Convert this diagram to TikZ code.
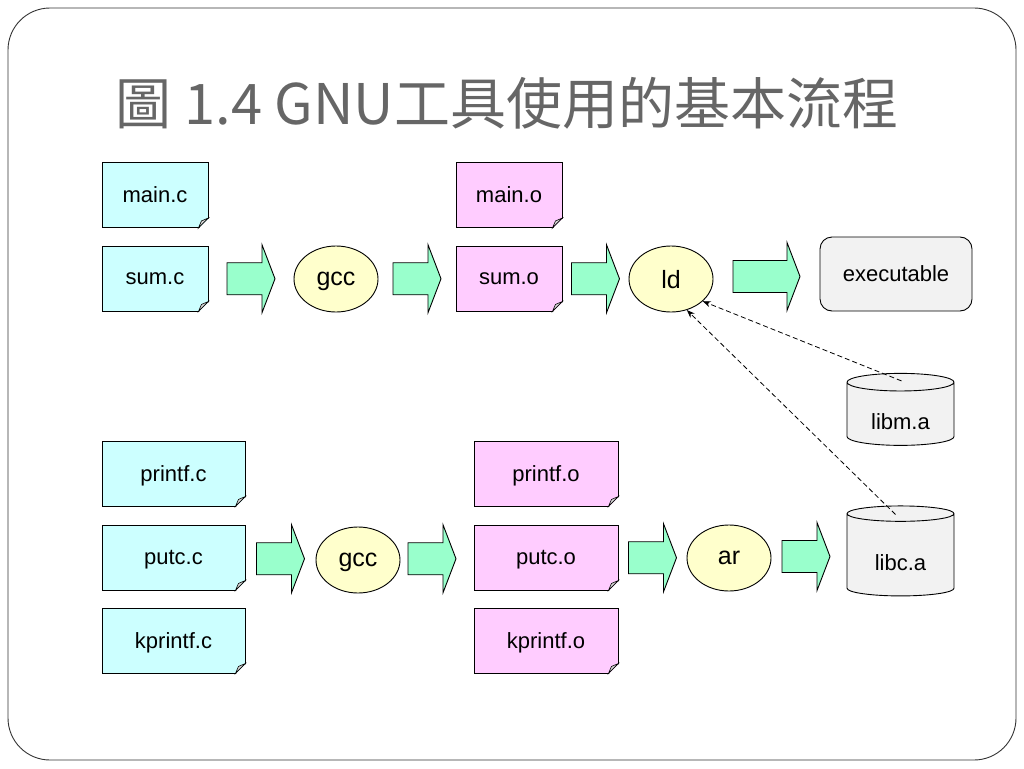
\documentclass[tikz,border=0pt]{standalone}
\usepackage{fontspec}
\setmainfont{Liberation Sans}
\newfontfamily\cjk{Noto Sans CJK TC}
\usetikzlibrary{shapes.geometric,calc,arrows.meta}

\definecolor{srcfill}{HTML}{CCFFFF}
\definecolor{objfill}{HTML}{FFCCFF}
\definecolor{toolfill}{HTML}{FFFFCC}
\definecolor{arrowfill}{HTML}{99FFCC}
\definecolor{libfill}{HTML}{F2F2F2}
\definecolor{titlegray}{HTML}{666666}

\tikzset{
  pics/flowarrow/.style={code={
    \draw[fill=arrowfill] (-#1/2,-16) -- (#1/2-13,-16) -- (#1/2-13,-34) -- (#1/2,0)
      -- (#1/2-13,34) -- (#1/2-13,16) -- (-#1/2,16) -- cycle;
  }}
}

\begin{document}
\begin{tikzpicture}[x=1pt,y=-1pt,line width=0.9pt,
  srcfile/.style={draw, fill=srcfill, inner sep=0pt, minimum height=65pt,
    text depth=0pt, font=\fontsize{22}{26}\selectfont},
  objfile/.style={srcfile, fill=objfill},
  tool/.style={ellipse, draw, fill=toolfill, inner sep=0pt, minimum width=84pt,
    minimum height=66pt, text depth=0pt, font=\fontsize{25}{28}\selectfont},
  lib/.style={cylinder, shape border rotate=90, aspect=0.3, draw, fill=libfill,
    inner sep=0pt, minimum width=107pt, text height=30pt, text depth=0pt,
    font=\fontsize{22}{26}\selectfont},
  libarrow/.style={-{Stealth[length=8pt,width=6pt]}, dash pattern=on 5pt off 3pt,
    line width=0.8pt},
  fold/.style={draw, line width=0.6pt, fill=black!15}]
  \useasboundingbox (0,0) rectangle (1024,768);
  \draw[rounded corners=42pt, black!80] (8,8) rectangle (1016,760);

  \node[font=\cjk\fontsize{56}{60}\selectfont, text=titlegray] (title) at (507,103)
    {圖 1.4 GNU工具使用的基本流程};

  % first row: compile and link
  \node[srcfile, minimum width=106pt] (mainc) at (155,195) {main.c};
  \node[srcfile, minimum width=106pt] (sumc) at (155,278.5) {sum.c};
  \node[tool] (gcca) at (336,279) {gcc};
  \node[objfile, minimum width=106pt] (maino) at (509,195) {main.o};
  \node[objfile, minimum width=106pt] (sumo) at (509,278.5) {sum.o};
  \node[tool] (ld) at (671,279) {ld};
  \node[draw, fill=libfill, rounded corners=12pt, minimum width=152pt,
    minimum height=74pt, font=\fontsize{22}{26}\selectfont] (exe) at (896,274) {executable};

  % second row: build the library
  \node[srcfile, minimum width=143pt] (printfc) at (173.5,473.5) {printf.c};
  \node[srcfile, minimum width=143pt] (putcc) at (173.5,557.5) {putc.c};
  \node[srcfile, minimum width=143pt] (kprintfc) at (173.5,640.5) {kprintf.c};
  \node[tool] (gccb) at (358,560) {gcc};
  \node[objfile, minimum width=144pt] (printfo) at (546,473.5) {printf.o};
  \node[objfile, minimum width=144pt] (putco) at (546,557.5) {putc.o};
  \node[objfile, minimum width=144pt] (kprintfo) at (546,640.5) {kprintf.o};
  \node[tool] (ar) at (729,558) {ar};

  \node[lib, minimum height=72pt] (libm) at (900.5,414) {libm.a};
  \node[lib, minimum height=90pt] (libc) at (900.5,555) {libc.a};

  % folded corners
  \foreach \n in {mainc,sumc,maino,sumo,printfc,putcc,kprintfc,printfo,putco,kprintfo} {
    \fill[white] ($(\n.south east)+(-10,1)$) -- ($(\n.south east)+(1,1)$)
      -- ($(\n.south east)+(1,-10)$) -- cycle;
    \draw[fold] ($(\n.south east)+(-10,0)$) -- ($(\n.south east)+(0,-10)$)
      -- ($(\n.south east)+(-7,-7)$) -- cycle;
  }

  \pic at ($(sumc.east)!0.5!(gcca.west)$) {flowarrow=48};
  \pic at ($(gcca.east)!0.5!(sumo.west)$) {flowarrow=48};
  \pic at ($(sumo.east)!0.5!(ld.west)$) {flowarrow=48};
  \pic at ($(ld.east)!0.5!(exe.west)$) {flowarrow=67};
  \pic at ($(putcc.east)!0.5!(gccb.west)$) {flowarrow=48};
  \pic at ($(gccb.east)!0.5!(putco.west)+(-5,0)$) {flowarrow=48};
  \pic at ($(putco.east)!0.5!(ar.west)$) {flowarrow=48};
  \pic at ($(ar.east)!0.5!(libc.west)+(-3,0)$) {flowarrow=48};

  \draw[libarrow] ($(libm.north)+(1,8)$) -- (ld.-35);
  \draw[libarrow] ($(libc.north)+(-5,9)$) -- (ld.-63);
\end{tikzpicture}
\end{document}
